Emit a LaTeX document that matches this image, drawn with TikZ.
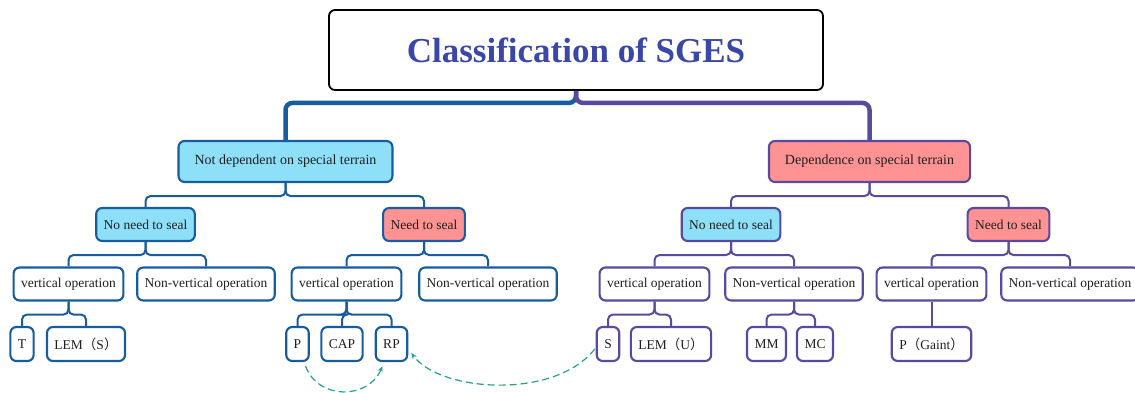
\documentclass[tikz,border=0pt]{standalone}
\usepackage{fontspec}
\setmainfont{Liberation Serif}
\newfontfamily\cjk{Noto Sans CJK SC}
\usetikzlibrary{positioning,calc,arrows.meta}

\definecolor{lineblue}{HTML}{175C9C}
\definecolor{linepurple}{HTML}{574A9F}
\definecolor{fillblue}{HTML}{8EDFF8}
\definecolor{fillred}{HTML}{FF9292}
\definecolor{titleblue}{HTML}{3A47A6}
\definecolor{arrowteal}{HTML}{2A9D8F}

\begin{document}
\begin{tikzpicture}[x=1pt, y=-1pt, font=\fontsize{13.5}{16}\selectfont,
    box/.style={draw, rounded corners=6pt, line width=2.1pt, fill=white, text=black!88,
        inner xsep=7.5pt, inner ysep=0pt, minimum height=33pt},
    leftbox/.style={box, draw=lineblue},
    rightbox/.style={box, draw=linepurple},
    topbox/.style={inner xsep=16pt, minimum height=41pt, font=\fontsize{14}{16}\selectfont},
    leafbox/.style={minimum height=34pt},
    branch/.style={line width=2pt, rounded corners=5pt},
    trunk/.style={line width=4.5pt, rounded corners=7pt},
    link/.style={arrowteal, line width=1.2pt, dash pattern=on 7pt off 4pt,
        -{Stealth[length=6pt,width=5pt]}}]

    \useasboundingbox (0,0) rectangle (1135,392);

    % title
    \node [draw, rounded corners=6pt, line width=1.8pt, minimum width=494pt, minimum height=80pt,
        text=titleblue, font=\fontsize{35}{40}\selectfont\bfseries] (title) at (576,50) {Classification of SGES};

    % first level
    \node [leftbox, topbox, fill=fillblue] (nd) at (285.5,161.5) {Not dependent on special terrain};
    \node [rightbox, topbox, fill=fillred] (dep) at (869.5,161.5) {Dependence on special terrain};

    % sealing
    \node [leftbox, fill=fillblue] (lno) at (145.5,224.5) {No need to seal};
    \node [leftbox, fill=fillred] (lneed) at (424,224.5) {Need to seal};
    \node [rightbox, fill=fillblue] (rno) at (731,224.5) {No need to seal};
    \node [rightbox, fill=fillred] (rneed) at (1008.5,224.5) {Need to seal};

    % operation
    \node [leftbox] (lnov) at (68.5,284) {vertical operation};
    \node [leftbox] (lnonv) at (206,284) {Non-vertical operation};
    \node [leftbox] (lneedv) at (346.5,284) {vertical operation};
    \node [leftbox] (lneednv) at (488,284) {Non-vertical operation};
    \node [rightbox] (rnov) at (654.5,284) {vertical operation};
    \node [rightbox] (rnonv) at (794,284) {Non-vertical operation};
    \node [rightbox] (rneedv) at (931.5,284) {vertical operation};
    \node [rightbox] (rneednv) at (1070,284) {Non-vertical operation};

    % leaves
    \node [leftbox, leafbox] (t) at (22,344) {T};
    \node [leftbox, leafbox] (lems) at (86,344) {LEM{\cjk （}S{\cjk ）}};
    \node [leftbox, leafbox] (p) at (297.5,344) {P};
    \node [leftbox, leafbox] (cap) at (342,344) {CAP};
    \node [leftbox, leafbox] (rp) at (391.5,344) {RP};
    \node [rightbox, leafbox] (s) at (608,344) {S};
    \node [rightbox, leafbox] (lemu) at (671,344) {LEM{\cjk （}U{\cjk ）}};
    \node [rightbox, leafbox] (mm) at (766.5,344) {MM};
    \node [rightbox, leafbox] (mc) at (815,344) {MC};
    \node [rightbox, leafbox] (pg) at (931.5,344) {P{\cjk （}Gaint{\cjk ）}};

    % tree lines
    \draw [trunk, lineblue] (title.south) -- ++(0,12) -| (nd.north);
    \draw [trunk, linepurple] (title.south) -- ++(0,12) -| (dep.north);

    \foreach \a/\b in {nd/lno, nd/lneed, lno/lnov, lno/lnonv, lneed/lneedv, lneed/lneednv,
        lnov/t, lnov/lems, lneedv/p, lneedv/cap, lneedv/rp}
        \draw [branch, lineblue] (\a.south) -- ++(0,13) -| (\b.north);
    \foreach \a/\b in {dep/rno, dep/rneed, rno/rnov, rno/rnonv, rneed/rneedv, rneed/rneednv,
        rnov/s, rnov/lemu, rnonv/mm, rnonv/mc, rneedv/pg}
        \draw [branch, linepurple] (\a.south) -- ++(0,13) -| (\b.north);

    % dashed links
    \draw [link] ($(p.south)+(8,4)$) .. controls (318,400) and (368,400) .. ($(rp.south)+(-9,4)$);
    \draw [link] ($(s.west)+(-1,5)$) .. controls (555,400) and (440,392) .. ($(rp.east)+(3,9)$);
\end{tikzpicture}
\end{document}
